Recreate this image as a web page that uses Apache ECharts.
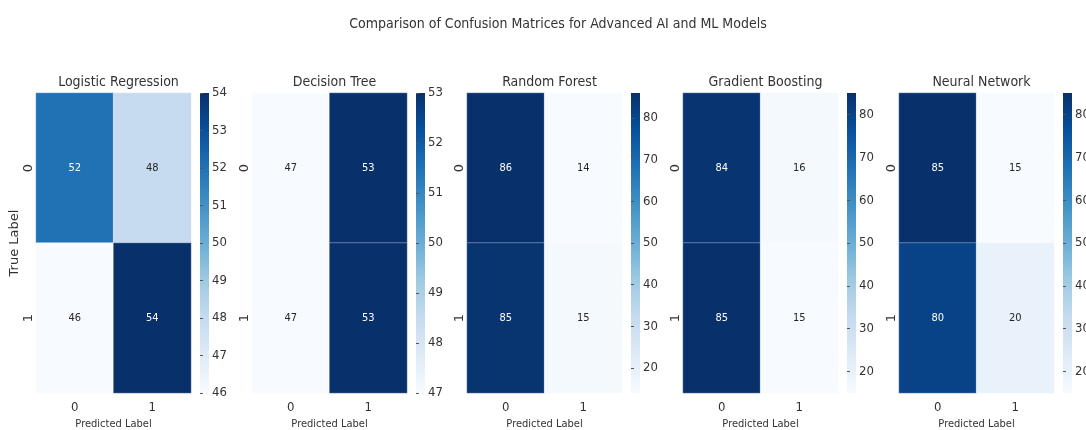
<!DOCTYPE html>
<html>
<head>
<meta charset="utf-8">
<script src="https://cdn.jsdelivr.net/npm/echarts@6/dist/echarts.min.js"></script>
<style>
  html, body { margin: 0; padding: 0; background: #fff; }
  #chart { width: 1086px; height: 430px; }
</style>
</head>
<body>
<div id="chart"></div>
<script>
// data
var models = ['Logistic Regression', 'Decision Tree', 'Random Forest', 'Gradient Boosting', 'Neural Network'];
var predLabels = ['0', '1'];
var trueLabels = ['0', '1'];
var cmLogistic = [[52, 48], [46, 54]];
var cmTree = [[47, 53], [47, 53]];
var cmForest = [[86, 14], [85, 15]];
var cmBoosting = [[84, 16], [85, 15]];
var cmNeural = [[85, 15], [80, 20]];
var matrices = [cmLogistic, cmTree, cmForest, cmBoosting, cmNeural];
var cbTicksSmall1 = [46, 47, 48, 49, 50, 51, 52, 53, 54];
var cbTicksSmall2 = [47, 48, 49, 50, 51, 52, 53];
var cbTicksLarge = [20, 30, 40, 50, 60, 70, 80];
var cbTicks = [cbTicksSmall1, cbTicksSmall2, cbTicksLarge, cbTicksLarge, cbTicksLarge];

// condensed font for horizontal text (the picture is squeezed sideways)
var FONT = "'DejaVu Sans Condensed', 'DejaVu Sans', sans-serif";
var FONT_ROT = "'DejaVu Sans', sans-serif";
var blues = ['#f7fbff', '#deebf7', '#c6dbef', '#9ecae1', '#6baed6', '#4292c6', '#2171b5', '#08519c', '#08306b'];

// layout (px)
var gridLeft = [36, 252, 467, 683, 899];
var gridW = 155;
var gridTop = 93;
var gridH = 300;
var cbGap = 9;
var cbW = 9;

var myChart = echarts.init(document.getElementById('chart'));

// gradient for the colorbars, dark at the top
var cbStops = [];
for (var k = 0; k < blues.length; k++) {
    cbStops.push({ offset: k / (blues.length - 1), color: blues[blues.length - 1 - k] });
}

var titles = [{
    text: 'Comparison of Confusion Matrices for Advanced AI and ML Models',
    left: 553, top: 12, textAlign: 'center',
    textStyle: { fontFamily: FONT, fontSize: 14, fontWeight: 'normal', color: '#333' }
}];
var grids = [], xAxes = [], yAxes = [], series = [], visualMaps = [];

for (var i = 0; i < models.length; i++) {
    var m = matrices[i];
    var flat = [m[0][0], m[0][1], m[1][0], m[1][1]];
    var vmin = Math.min.apply(null, flat);
    var vmax = Math.max.apply(null, flat);

    titles.push({
        text: models[i],
        left: gridLeft[i] + gridW / 2, top: 70, textAlign: 'center',
        textStyle: { fontFamily: FONT, fontSize: 14, fontWeight: 'normal', color: '#333' }
    });

    // heatmap grid
    grids.push({ left: gridLeft[i], top: gridTop, width: gridW, height: gridH, outerBoundsMode: 'none' });
    // colorbar grid
    grids.push({
        left: gridLeft[i] + gridW + cbGap, top: gridTop, width: cbW, height: gridH,
        outerBoundsMode: 'none', show: true, borderWidth: 0,
        backgroundColor: new echarts.graphic.LinearGradient(0, 0, 0, 1, cbStops)
    });

    xAxes.push({
        type: 'category', gridIndex: 2 * i, data: predLabels,
        name: 'Predicted Label', nameLocation: 'middle', nameGap: 23,
        nameTextStyle: { fontFamily: FONT, fontSize: 11, color: '#333' },
        axisLine: { show: false },
        axisTick: { alignWithLabel: true, length: 3, lineStyle: { color: '#555' } },
        axisLabel: { fontFamily: FONT, fontSize: 13, color: '#333', margin: 8 },
        splitArea: { show: false }, splitLine: { show: false }
    });
    yAxes.push({
        type: 'category', gridIndex: 2 * i, data: trueLabels, inverse: true,
        name: i === 0 ? 'True Label' : '', nameLocation: 'middle', nameGap: 15,
        nameTextStyle: { fontFamily: FONT_ROT, fontSize: 13, color: '#333' },
        axisLine: { show: false },
        axisTick: { alignWithLabel: true, length: 3, lineStyle: { color: '#555' } },
        axisLabel: { fontFamily: FONT_ROT, fontSize: 13, color: '#333', rotate: 90, margin: 1 },
        splitArea: { show: false }, splitLine: { show: false }
    });

    // colorbar axis
    xAxes.push({ type: 'value', gridIndex: 2 * i + 1, show: false, min: 0, max: 1 });
    yAxes.push({
        type: 'value', gridIndex: 2 * i + 1, position: 'right', min: vmin, max: vmax,
        axisLine: { show: false },
        axisTick: { show: true, length: 3, customValues: cbTicks[i], lineStyle: { color: '#555' } },
        axisLabel: { fontFamily: FONT, fontSize: 13, color: '#333', margin: 3, customValues: cbTicks[i] },
        splitLine: { show: false }
    });

    var data = [];
    for (var r = 0; r < 2; r++) {
        for (var c = 0; c < 2; c++) {
            var t = (m[r][c] - vmin) / (vmax - vmin);
            data.push({
                value: [c, r, m[r][c]],
                label: { color: t > 0.45 ? '#ffffff' : '#262626' }
            });
        }
    }
    series.push({
        type: 'heatmap', xAxisIndex: 2 * i, yAxisIndex: 2 * i, data: data,
        itemStyle: { borderColor: 'rgba(255,255,255,0.55)', borderWidth: 0.6 },
        label: { show: true, fontFamily: FONT, fontSize: 11, formatter: function (p) { return p.value[2]; } },
        emphasis: { disabled: true }
    });

    // colour mapping only; the bar itself is the colorbar grid
    visualMaps.push({
        type: 'continuous', seriesIndex: i, min: vmin, max: vmax,
        inRange: { color: blues }, show: false
    });
}

var option = {
    backgroundColor: '#ffffff',
    animation: false,
    title: titles,
    grid: grids,
    xAxis: xAxes,
    yAxis: yAxes,
    visualMap: visualMaps,
    series: series
};
myChart.setOption(option);
</script>
</body>
</html>
